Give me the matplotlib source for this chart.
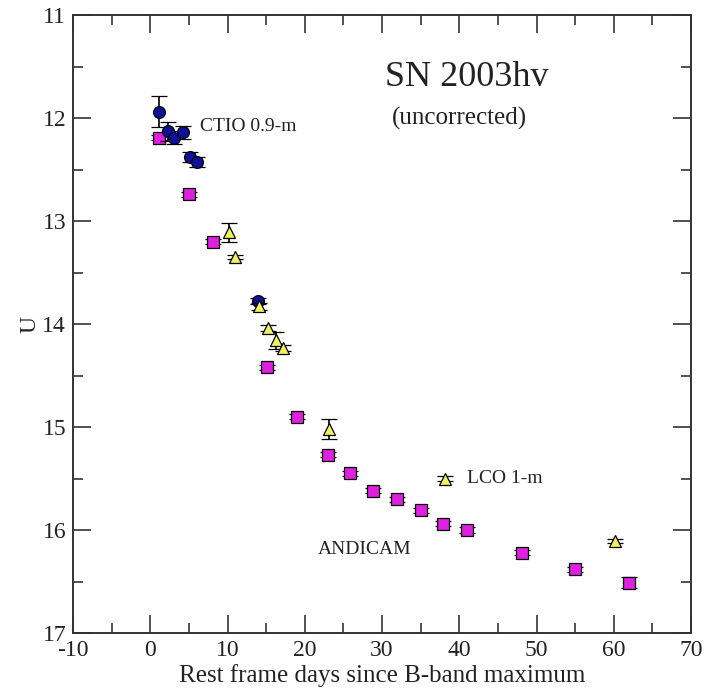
import matplotlib
matplotlib.use("Agg")
import matplotlib.pyplot as plt
from matplotlib.ticker import MultipleLocator

plt.rcParams['font.family'] = ['Liberation Serif', 'DejaVu Serif']
plt.rcParams['axes.unicode_minus'] = False

# ANDICAM (magenta squares)
andicam_days = [1.1, 5.0, 8.1, 15.1, 19.0, 23.0, 25.9, 28.8, 31.9, 35.0, 37.9, 41.0, 48.1, 55.0, 62.0]
andicam_U = [12.19, 12.74, 13.20, 14.42, 14.90, 15.27, 15.45, 15.62, 15.70, 15.81, 15.94, 16.00, 16.22, 16.38, 16.51]
andicam_err = [0.025, 0.025, 0.025, 0.025, 0.025, 0.025, 0.025, 0.025, 0.025, 0.025, 0.025, 0.025, 0.025, 0.025, 0.05]

# CTIO 0.9-m (navy circles)
ctio_days = [1.1, 2.3, 3.1, 4.2, 5.1, 6.0, 14.0]
ctio_U = [11.94, 12.13, 12.19, 12.14, 12.38, 12.43, 13.78]
ctio_err = [0.15, 0.09, 0.06, 0.06, 0.05, 0.05, 0.03]

# LCO 1-m (yellow triangles)
lco_days = [10.2, 11.0, 14.1, 15.2, 16.3, 17.2, 23.1, 38.2, 60.2]
lco_U = [13.11, 13.35, 13.83, 14.04, 14.16, 14.23, 15.02, 15.50, 16.11]
lco_err = [0.09, 0.02, 0.03, 0.03, 0.08, 0.03, 0.10, 0.02, 0.02]

fig = plt.figure(figsize=(7.08, 6.92), dpi=100)
ax = fig.add_axes([73/708, 1-633/692, 618/708, 618/692])

ekw = dict(linestyle='none', ecolor='black', elinewidth=1.2, capsize=6, capthick=1.2,
           markeredgecolor='black', markeredgewidth=0.9)

ax.errorbar(andicam_days, andicam_U, yerr=andicam_err, marker='s', markersize=8,
            markerfacecolor='#e020e0', zorder=3, **ekw)
ax.errorbar(ctio_days, ctio_U, yerr=ctio_err, marker='o', markersize=8.5,
            markerfacecolor='#10109a', zorder=4, **ekw)
ax.errorbar(lco_days, lco_U, yerr=lco_err, marker='^', markersize=9,
            markerfacecolor='#f0f060', zorder=5, **ekw)

ax.set_xlim(-10, 70)
ax.set_ylim(17, 11)
ax.xaxis.set_major_locator(MultipleLocator(10))
ax.xaxis.set_minor_locator(MultipleLocator(5))
ax.yaxis.set_major_locator(MultipleLocator(1))
ax.yaxis.set_minor_locator(MultipleLocator(0.5))
ax.tick_params(which='both', direction='in', top=True, right=True, width=1.2,
               color='#333333', labelsize=17, pad=5, labelcolor='#222222')
ax.tick_params(which='major', length=13)
ax.tick_params(which='minor', length=7)
for s in ax.spines.values():
    s.set_linewidth(1.4)
    s.set_color('#333333')

ax.set_xlabel('Rest frame days since B-band maximum', fontsize=18, color='#222222', labelpad=2)
ax.set_ylabel('U', fontsize=17, color='#222222', labelpad=1)

ax.text(41, 11.69, 'SN 2003hv', fontsize=26, ha='center', va='baseline', color='#222222')
ax.text(40, 12.0, '(uncorrected)', fontsize=18, ha='center', va='center', color='#222222')
ax.text(6.4, 12.08, 'CTIO 0.9-m', fontsize=14, ha='left', va='center', color='#222222')
ax.text(41.0, 15.50, 'LCO 1-m', fontsize=14, ha='left', va='center', color='#222222')
ax.text(21.7, 16.19, 'ANDICAM', fontsize=14, ha='left', va='center', color='#222222')

fig.savefig('out.png', dpi=100)
